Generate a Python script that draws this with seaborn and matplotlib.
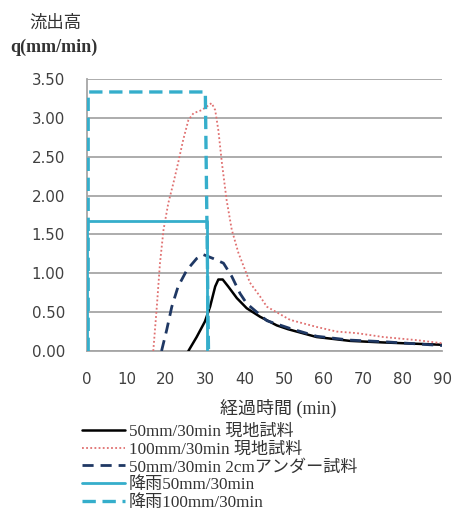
import matplotlib
matplotlib.use("Agg")
import matplotlib.pyplot as plt
import seaborn as sns
import pandas as pd
from matplotlib.lines import Line2D

# ---- data ----
t_black = [25.7, 27.8, 29.9, 31.2, 32.5, 33.3, 34.4, 35.8, 38.0, 40.5, 43.9, 48.1, 51.0, 58.2, 66.7, 75.1, 90.0]
q_black = [0.00, 0.18, 0.38, 0.57, 0.83, 0.92, 0.92, 0.83, 0.68, 0.55, 0.44, 0.33, 0.28, 0.18, 0.13, 0.11, 0.08]

t_red = [16.8, 17.7, 18.5, 19.4, 20.6, 21.9, 23.1, 24.4, 25.7, 27.0, 29.1, 31.6, 32.5, 33.3, 34.2, 35.4, 36.7,
         38.4, 40.1, 41.3, 43.9, 45.6, 51.5, 58.2, 63.3, 68.4, 75.1, 83.6, 90.0]
q_red = [0.00, 0.57, 1.13, 1.56, 1.90, 2.16, 2.42, 2.72, 2.97, 3.06, 3.10, 3.19, 3.10, 2.84, 2.42, 1.94, 1.56,
         1.26, 1.04, 0.88, 0.70, 0.57, 0.40, 0.31, 0.25, 0.23, 0.18, 0.14, 0.10]

t_navy = [18.9, 20.2, 21.5, 23.1, 25.3, 27.8, 29.5, 32.0, 34.6, 36.7, 38.8, 40.5, 45.6, 51.5, 58.2, 66.7, 75.1, 90.0]
q_navy = [0.00, 0.27, 0.57, 0.83, 1.04, 1.19, 1.24, 1.19, 1.13, 0.96, 0.74, 0.61, 0.39, 0.29, 0.19, 0.14, 0.12, 0.07]

t_rain50 = [0, 0, 30.3, 30.3]
q_rain50 = [0, 1.667, 1.667, 0]
t_rain100 = [0.3, 0.3, 30.0, 30.8]
q_rain100 = [0, 3.333, 3.333, 0]

labels = ["50mm/30min 現地試料", "100mm/30min 現地試料", "50mm/30min 2cmアンダー試料",
          "降雨50mm/30min", "降雨100mm/30min"]
xticks = [0, 10, 20, 30, 40, 50, 60, 70, 80, 90]
yticks = [0.0, 0.5, 1.0, 1.5, 2.0, 2.5, 3.0, 3.5]

sns.set_style("white")
plt.rcParams['font.family'] = ['DejaVu Sans', 'Noto Sans CJK JP']

fig = plt.figure(figsize=(4.54, 5.11), dpi=100)
ax = fig.add_axes([87/454, 160/511, 355/454, 272/511])

blue = "#35AECB"
styles = [
    dict(color="black", lw=1.8, ls="-"),
    dict(color="#E07070", lw=1.3, ls=(0, (1, 1.3))),
    dict(color="#1F3864", lw=2.0, ls=(0, (4, 2.5))),
    dict(color=blue, lw=2.0, ls="-"),
    dict(color=blue, lw=2.4, ls=(0, (4, 2))),
]
series = [(t_black, q_black), (t_red, q_red), (t_navy, q_navy),
          (t_rain50, q_rain50), (t_rain100, q_rain100)]

order = [3, 4, 1, 2, 0]
for i in order:
    tx, qy = series[i]
    df = pd.DataFrame({"t": tx, "q": qy})
    sns.lineplot(data=df, x="t", y="q", ax=ax, sort=False, estimator=None,
                 color=styles[i]["color"], linewidth=styles[i]["lw"],
                 linestyle=styles[i]["ls"], zorder=3 + i)

ax.set_xlim(0, 90)
ax.set_ylim(0, 3.5)
ax.set_xticks(xticks)
ax.set_yticks(yticks)
ax.set_xticklabels([str(v) for v in xticks])
ax.set_yticklabels([f"{v:.2f}" for v in yticks])
ax.set_xlabel("")
ax.set_ylabel("")
ax.yaxis.grid(True, color="#A6A6A6", lw=1.3)
ax.xaxis.grid(False)
for s in ["top", "right"]:
    ax.spines[s].set_visible(False)
for s in ["left", "bottom"]:
    ax.spines[s].set_color("#A6A6A6")
    ax.spines[s].set_linewidth(1.3)
ax.tick_params(axis="both", which="both", direction="out", length=5, width=1.0,
               color="#A6A6A6", labelsize=10.8, labelcolor="#404040")
ax.tick_params(axis="y", pad=11)
ax.tick_params(axis="x", pad=10)

serif = ['Liberation Serif', 'Noto Sans CJK JP']
fig.text(55/454, 1 - 23/511, "流出高", ha="center", va="center", fontsize=12.5,
         family=['Noto Sans CJK JP'], color="#333333")
fig.text(54/454, 1 - 47/511, "q(mm/min)", ha="center", va="center", fontsize=13,
         family=serif, fontweight="bold", color="#333333")
fig.text(278/454, 1 - 408/511, "経過時間 (min)", ha="center", va="center", fontsize=13,
         family=serif, color="#333333")

handles = [Line2D([], [], color=s["color"], lw=s["lw"], ls=s["ls"]) for s in styles]
leg = fig.legend(handles, labels, loc="upper left", bbox_to_anchor=(82/454, 1 - 424/511),
                 frameon=False, prop={"family": serif, "size": 12.3}, handlelength=2.5,
                 handletextpad=0.25, labelspacing=0.1, borderpad=0, borderaxespad=0)
for txt in leg.get_texts():
    txt.set_color("#333333")

fig.savefig("out.png", dpi=100)
